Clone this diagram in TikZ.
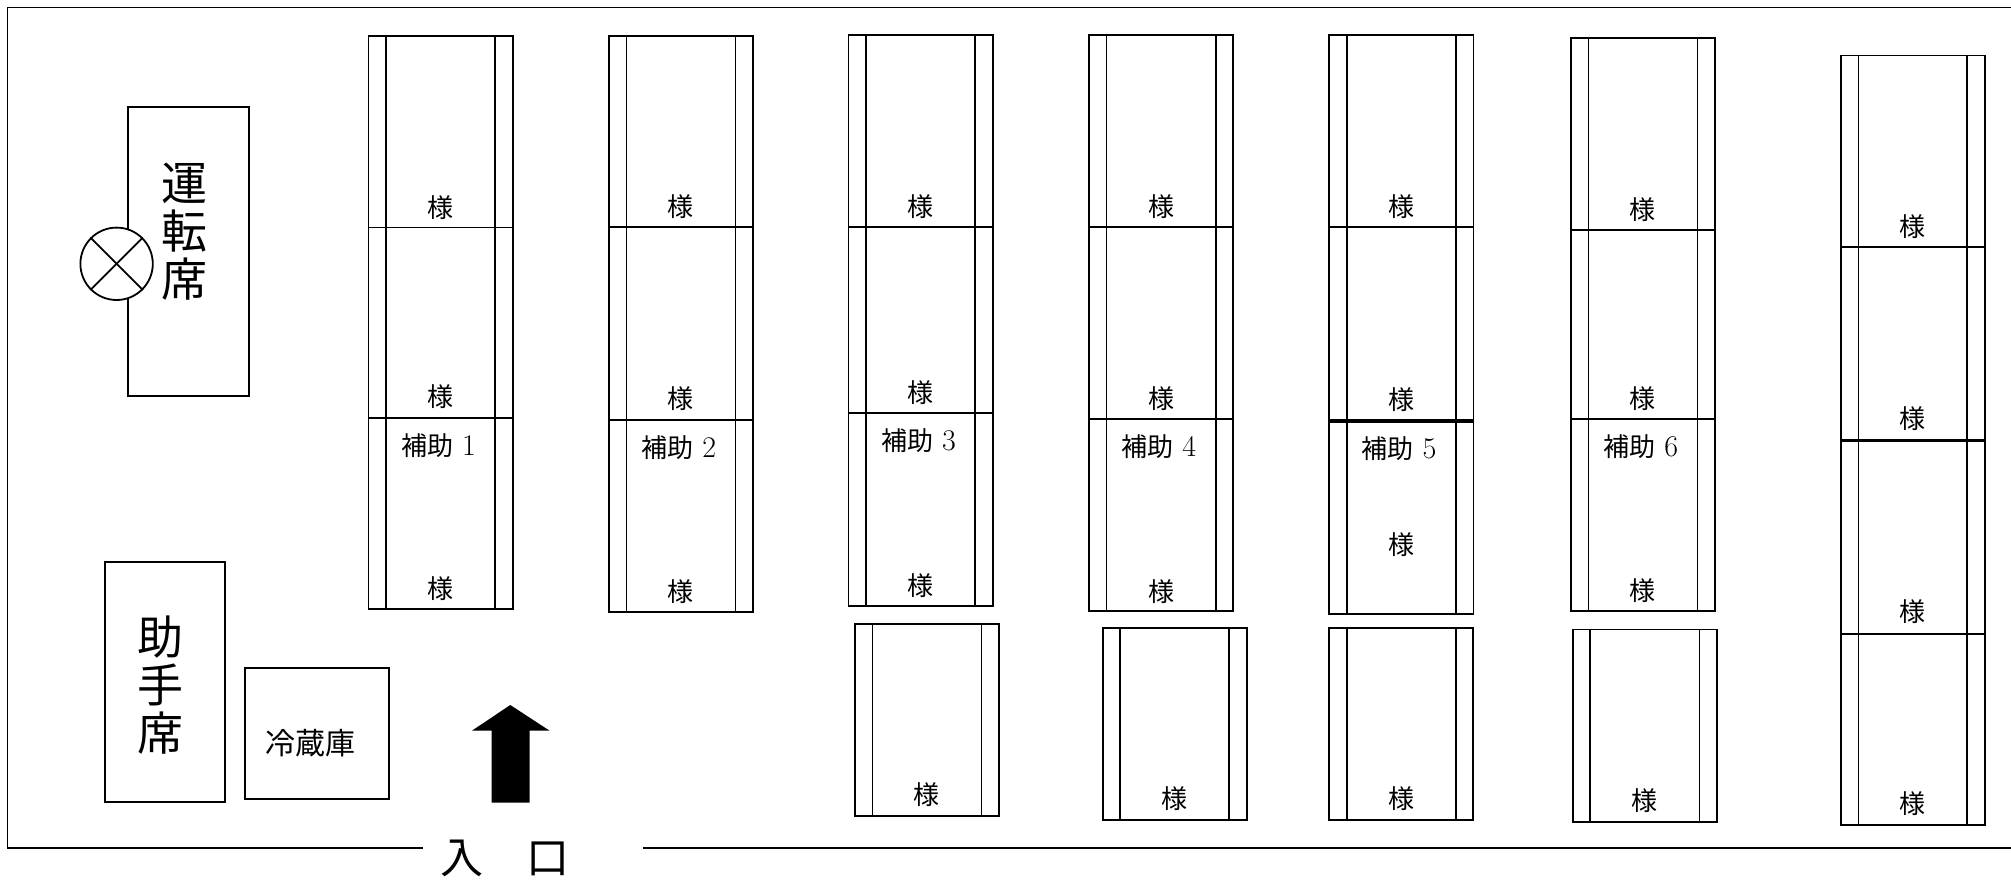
\documentclass[tikz,border=0pt]{standalone}
\usepackage{fontspec}
\newfontfamily\cjk{Noto Sans CJK JP}
\begin{document}
\begin{tikzpicture}[x=1pt,y=-1pt,line width=1.8pt,
  seatlbl/.style={font=\cjk\fontsize{26}{26}\selectfont,inner sep=0pt},
  biglbl/.style={font=\cjk\fontsize{46}{48}\selectfont,inner sep=0pt,align=center},
  thickdiv/.style={line width=3.6pt}]
\useasboundingbox (0,0) rectangle (2011,879);
% outer wall
\draw (2011,7.5) -- (7.5,7.5) -- (7.5,848.3) -- (423.2,848.3);
\draw (642.9,848.3) -- (2011,848.3);
\node[font=\cjk\fontsize{43}{43}\selectfont,inner sep=0pt] (entrance) at (505,858) {入　口};
% driver seat
\draw (127.9,107.3) rectangle (248.9,396);
\node[biglbl] (driver) at (184,231.5) {運\\転\\席};
\node[circle,draw,fill=white,minimum size=72.4pt,inner sep=0pt] (wheel) at (116.6,263.8) {};
\draw (wheel.north west) -- (wheel.south east);
\draw (wheel.north east) -- (wheel.south west);
% assistant seat
\draw (104.9,561.7) rectangle (225,802);
\node[biglbl] (assist) at (160,685) {助\\手\\席};
% fridge
\draw (245,668) rectangle (389.3,798.7);
\node[font=\cjk\fontsize{30}{30}\selectfont,inner sep=0pt] (fridge) at (310,743.5) {冷蔵庫};
% entrance arrow
\fill (491.5,802.7) -- (491.5,730.7) -- (471.9,730.7) -- (510.3,705) -- (549.6,730.7) -- (529.5,730.7) -- (529.5,802.7) -- cycle;
% seat columns 1-6
\foreach \n/\l/\t/\b/\da/\db/\sb in {1/368.5/35.6/609/227.4/418/589,
  2/608.7/35.6/612/227/420/592,
  3/848.5/35/605.7/227/413.3/585.7,
  4/1088.8/35/611.3/227/419.3/591.3,
  5/1329/35/614/227/420.7/545,
  6/1570.7/37.6/611/229.8/419.3/591}
{
  \draw (\l,\t) rectangle (\l+144.5,\b);
  \draw (\l+17.7,\t) -- (\l+17.7,\b);
  \draw (\l+126.8,\t) -- (\l+126.8,\b);
  \draw (\l,\da) -- (\l+144.5,\da);
  \node[seatlbl] (s\n a) at (\l+72.25,\da-20) {様};
  \node[seatlbl] (s\n b) at (\l+72.25,\db-21) {様};
  \node[seatlbl] (h\n) at (\l+70,\db+27.5) {補助\hspace{9pt}{\rmfamily\fontsize{30}{30}\selectfont\n}};
  \node[seatlbl] (s\n c) at (\l+72.25,\sb) {様};
}
\foreach \n/\l/\db in {1/368.5/418,2/608.7/420,3/848.5/413.3,4/1088.8/419.3,6/1570.7/419.3}
  \draw (\l,\db) -- (\l+144.5,\db);
\draw[thickdiv] (1329,420.7) -- (1473.5,420.7);
% column 7
\draw (1840.7,55.5) rectangle (1985,825);
\draw (1858.4,55.5) -- (1858.4,825);
\draw (1967.3,55.5) -- (1967.3,825);
\draw (1840.7,247.2) -- (1985,247.2);
\draw[thickdiv] (1840.7,440.6) -- (1985,440.6);
\draw (1840.7,634) -- (1985,634);
\node[seatlbl] (s7a) at (1912.85,227) {様};
\node[seatlbl] (s7b) at (1912.85,419) {様};
\node[seatlbl] (s7c) at (1912.85,612) {様};
\node[seatlbl] (s7d) at (1912.85,804) {様};
% rear single seats
\foreach \n/\l/\t/\b in {3/854.8/624.3/816, 4/1102.6/628/820, 5/1329/628/820, 6/1572.7/629.5/822}
{
  \draw (\l,\t) rectangle (\l+144.3,\b);
  \draw (\l+17.6,\t) -- (\l+17.6,\b);
  \draw (\l+126.7,\t) -- (\l+126.7,\b);
  \node[seatlbl] (r\n) at (\l+72.15,\b-21) {様};
}
\end{tikzpicture}
\end{document}
